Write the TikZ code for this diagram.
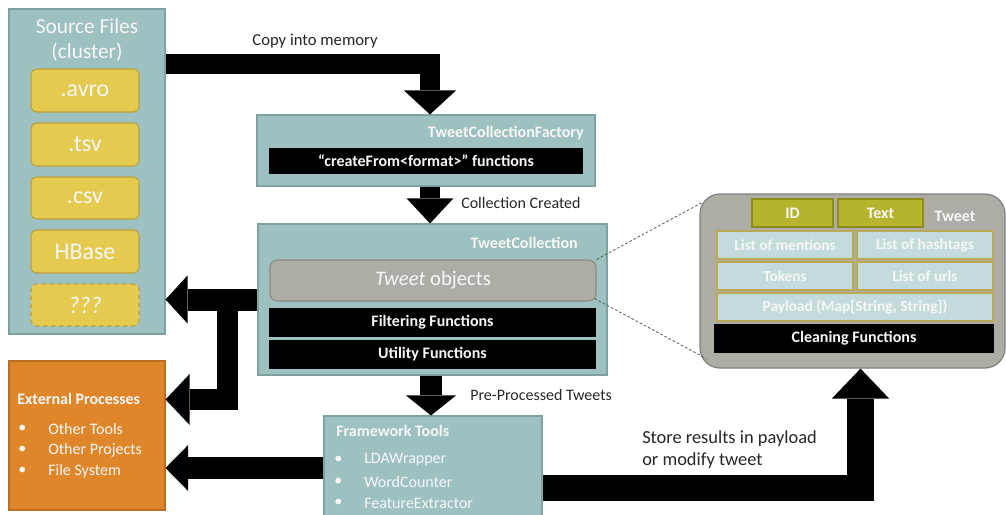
\documentclass[tikz,border=0pt]{standalone}
\usepackage{fontspec}
\setmainfont{Carlito}
\usetikzlibrary{arrows.meta,calc}

\definecolor{tealfill}{HTML}{9DC1C0}
\definecolor{tealedge}{HTML}{7FA2A1}
\definecolor{yfill}{HTML}{E4CA4F}
\definecolor{yedge}{HTML}{B9A03C}
\definecolor{orfill}{HTML}{E0862A}
\definecolor{oredge}{HTML}{BD6E20}
\definecolor{grayfill}{HTML}{ADADA6}
\definecolor{grayedge}{HTML}{8A8A85}
\definecolor{paneledge}{HTML}{7F7F7F}
\definecolor{olivefill}{HTML}{B6B42C}
\definecolor{oliveedge}{HTML}{8E8B1E}
\definecolor{lightfill}{HTML}{C3DCDB}
\definecolor{lightedge}{HTML}{BBA955}
\definecolor{darktext}{HTML}{262626}
\definecolor{wtext}{HTML}{F7F7F7}

% box given by its corners (x1,y1) and (x2,y2) in pixel units
\newcommand{\blk}[7]{\node[#2, inner sep=0pt, minimum width={(#5-#3)*0.75pt}, minimum height={(#6-#4)*0.75pt}] (#1) at ({(#3+#5)/2},{(#4+#6)/2}) {#7};}

\begin{document}
\begin{tikzpicture}[x=0.75pt, y=-0.75pt,
  panel/.style={draw=tealedge, fill=tealfill, line width=0.8pt},
  filebox/.style={draw=yedge, fill=yfill, line width=0.8pt, rounded corners=4pt, text=wtext, font=\fontsize{18}{20}\selectfont},
  darkbar/.style={fill=black, text=wtext, font=\bfseries\fontsize{12}{14}\selectfont},
  objbox/.style={draw=grayedge, fill=grayfill, line width=0.8pt, rounded corners=5.5pt, text=wtext, font=\fontsize{15.5}{18}\selectfont},
  tweetpanel/.style={draw=paneledge, fill=grayfill, line width=0.9pt, rounded corners=15pt},
  fieldkey/.style={draw=oliveedge, fill=olivefill, line width=0.8pt, text=wtext, font=\bfseries\fontsize{12}{14}\selectfont},
  fieldbox/.style={draw=lightedge, fill=lightfill, line width=0.8pt, text=wtext, font=\bfseries\fontsize{11.5}{14}\selectfont},
  extbox/.style={draw=oredge, fill=orfill, line width=0.8pt},
  boxtitle/.style={text=wtext, inner sep=0pt, font=\bfseries\fontsize{12}{14}\selectfont},
  itemtext/.style={text=wtext, inner sep=0pt, anchor=west, font=\fontsize{12}{14}\selectfont},
  flowlabel/.style={text=darktext, inner sep=0pt, font=\fontsize{12}{14}\selectfont},
  barrow/.style n args={3}{draw=black, line width=#1, line cap=butt, line join=miter,
     -{Triangle[length=#2, width=#3, line width=0pt]}},
  zoomline/.style={draw=black!65, line width=0.6pt, dash pattern=on 2pt off 1.5pt}
]
\useasboundingbox (0,0) rectangle (1006,514);

% ---------- source files ----------
\blk{src}{panel}{9}{9}{165}{334}{}
\node[text=wtext, align=center, inner sep=0pt, font=\fontsize{16}{19}\selectfont] (srctitle) at (87,40) {Source Files\\(cluster)};
\blk{avro}{filebox}{31}{69}{139}{112}{.avro}
\blk{tsv}{filebox}{31}{123}{139}{166}{.tsv}
\blk{csv}{filebox}{31}{177}{139}{219}{.csv}
\blk{hbase}{filebox}{31}{230}{139}{273}{HBase}
\blk{unk}{filebox, dashed}{31}{284}{139}{326}{\itshape ???}

% ---------- factory ----------
\blk{fac}{panel}{257}{115}{595}{186}{}
\node[boxtitle, anchor=east] (factitle) at (584,133) {TweetCollectionFactory};
\blk{create}{darkbar}{269}{148}{583}{174}{“createFrom<format>” functions}

% ---------- collection ----------
\blk{coll}{panel}{258}{224}{607}{375}{}
\node[boxtitle, anchor=east] (colltitle) at (578,243) {TweetCollection};
\blk{tobj}{objbox}{270}{260}{596}{301}{\textit{Tweet} objects}
\blk{filt}{darkbar}{269}{308}{596}{337}{Filtering Functions}
\blk{util}{darkbar}{269}{340}{596}{369}{Utility Functions}

% ---------- framework tools ----------
\blk{fw}{panel}{324}{416}{542}{520}{}
\node[boxtitle, anchor=west] (fwtitle) at (336,431) {Framework Tools};
\node[itemtext] (fwb1) at (334,460) {•};
\node[itemtext] (fwb2) at (334,482) {•};
\node[itemtext] (fwb3) at (334,503) {•};
\node[itemtext] (fw1) at (364,460) {LDAWrapper};
\node[itemtext] (fw2) at (364,482) {WordCounter};
\node[itemtext] (fw3) at (364,503) {FeatureExtractor};

% ---------- external processes ----------
\blk{ext}{extbox}{9}{361}{165}{510}{}
\node[boxtitle, anchor=west] (exttitle) at (17,399) {External Processes};
\node[itemtext] (exb1) at (18,429) {•};
\node[itemtext] (exb2) at (18,450) {•};
\node[itemtext] (exb3) at (18,471) {•};
\node[itemtext] (ex1) at (48,429) {Other Tools};
\node[itemtext] (ex2) at (48,450) {Other Projects};
\node[itemtext] (ex3) at (48,471) {File System};

% ---------- tweet detail ----------
\blk{tw}{tweetpanel}{700}{194}{1005}{368}{}
\blk{id}{fieldkey}{752}{199}{833}{227}{ID}
\blk{txt}{fieldkey}{838}{199}{923}{227}{Text}
\node[boxtitle] (twtitle) at (955,216) {Tweet};
\blk{ment}{fieldbox}{717}{231}{853}{259}{List of mentions}
\blk{hash}{fieldbox}{857}{231}{993}{259}{List of hashtags}
\blk{tok}{fieldbox}{717}{262}{853}{290}{Tokens}
\blk{urls}{fieldbox}{857}{262}{993}{290}{List of urls}
\blk{pay}{fieldbox}{717}{293}{993}{321}{Payload (Map[String, String])}
\blk{clean}{darkbar}{714}{324}{994}{353}{Cleaning Functions}

\draw[zoomline] (tobj.north east) -- ($(tw.north west)+(3,9)$);
\draw[zoomline] ($(tobj.south east)+(-2,-3)$) -- ($(tw.south west)+(7,-10)$);

% ---------- flow arrows ----------
\draw[barrow={15pt}{18pt}{39pt}] ($(src.north east)+(0,56)$) -| ($(fac.north)+(4,0)$);
\node[flowlabel, font=\fontsize{12.5}{15}\selectfont] (copylbl) at (315,41) {Copy into memory};

\draw[barrow={15pt}{18.75pt}{35pt}] ($(fac.south)+(4,0)$) -- ($(coll.north)+(-2.5,0)$);
\node[flowlabel, anchor=west] (colllbl) at (461,203) {Collection Created};

\draw[barrow={16pt}{15pt}{37.5pt}] ($(coll.south)+(-1.5,0)$) -- ($(coll.south |- fw.north)+(-1.5,0)$);
\node[flowlabel, anchor=west] (prelbl) at (470,395) {Pre-Processed Tweets};

\draw[barrow={16.5pt}{16.5pt}{36pt}] (coll.west) -- (coll.west -| src.east);
\coordinate (fork) at ($(coll.west)+(-30,-11)$);
\draw[barrow={16pt}{18pt}{38pt}] (fork) |- ($(ext.north east)+(0,39)$);

\draw[barrow={17pt}{17pt}{34.5pt}] (fw.west) -- (fw.west -| ext.east);

\draw[barrow={20pt}{22.5pt}{43pt}] ($(fw.east)+(0,20)$) -| ($(tw.south)+(8,0)$);
\node[flowlabel, anchor=north west, align=left, font=\fontsize{13.8}{16.5}\selectfont] (storelbl) at (642,430) {Store results in payload\\or modify tweet};

\end{tikzpicture}
\end{document}
